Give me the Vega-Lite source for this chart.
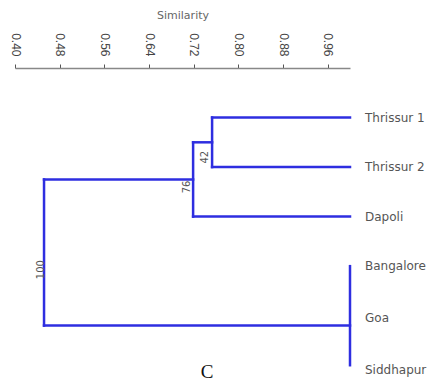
{
  "$schema": "https://vega.github.io/schema/vega-lite/v6.json",
  "width": 335,
  "height": 322,
  "autosize": {"type": "none"},
  "padding": {"left": 15, "top": 68, "right": 84, "bottom": 1},
  "background": "white",
  "config": {"view": {"stroke": null}},
  "datasets": {
    "segments": [
      {"sim": 0.753, "sim2": 1.0, "pos": 1, "pos2": 1},
      {"sim": 0.753, "sim2": 1.0, "pos": 2, "pos2": 2},
      {"sim": 0.753, "sim2": 0.753, "pos": 1, "pos2": 2},
      {"sim": 0.719, "sim2": 0.753, "pos": 1.5, "pos2": 1.5},
      {"sim": 0.719, "sim2": 1.0, "pos": 3, "pos2": 3},
      {"sim": 0.719, "sim2": 0.719, "pos": 1.5, "pos2": 3},
      {"sim": 0.452, "sim2": 0.719, "pos": 2.25, "pos2": 2.25},
      {"sim": 0.452, "sim2": 1.0, "pos": 5.2, "pos2": 5.2},
      {"sim": 0.452, "sim2": 0.452, "pos": 2.25, "pos2": 5.2},
      {"sim": 1.0, "sim2": 1.0, "pos": 4, "pos2": 6}
    ],
    "leaves": [
      {"label": "Thrissur 1", "sim": 1.0, "pos": 1},
      {"label": "Thrissur 2", "sim": 1.0, "pos": 2},
      {"label": "Dapoli", "sim": 1.0, "pos": 3},
      {"label": "Bangalore", "sim": 1.0, "pos": 4},
      {"label": "Goa", "sim": 1.0, "pos": 5.05},
      {"label": "Siddhapur", "sim": 1.0, "pos": 6.1}
    ],
    "boot": [
      {"label": "42", "sim": 0.740, "pos": 1.8},
      {"label": "76", "sim": 0.708, "pos": 2.4},
      {"label": "100", "sim": 0.4466, "pos": 4.07}
    ],
    "letter": [
      {"label": "C", "sim": 0.744, "pos": 6.13}
    ]
  },
  "layer": [
    {
      "data": {"name": "segments"},
      "mark": {"type": "rule", "color": "#2e2ee0", "strokeWidth": 2.5, "strokeCap": "square"},
      "encoding": {
        "x": {
          "field": "sim", "type": "quantitative",
          "scale": {"domain": [0.4, 1.0], "nice": false, "zero": false},
          "axis": {
            "orient": "top",
            "title": "Similarity",
            "values": [0.40, 0.48, 0.56, 0.64, 0.72, 0.80, 0.88, 0.96],
            "format": ".2f",
            "labelAngle": 90,
            "labelAlign": "right",
            "labelBaseline": "middle",
            "labelFont": "Liberation Sans",
            "labelFontSize": 12,
            "labelColor": "#444",
            "labelPadding": 8,
            "tickSize": 4,
            "tickColor": "#555",
            "domainColor": "#888",
            "domainWidth": 1.5,
            "grid": false,
            "titleFont": "DejaVu Sans",
            "titleFontSize": 11,
            "titleFontWeight": "normal",
            "titleColor": "#666",
            "titleY": -53,
            "titleBaseline": "middle",
            "labelFlush": false,
            "labelOverlap": false
          }
        },
        "x2": {"field": "sim2"},
        "y": {
          "field": "pos", "type": "quantitative",
          "scale": {"domain": [0, 6.5], "reverse": true, "nice": false, "zero": false},
          "axis": null
        },
        "y2": {"field": "pos2"}
      }
    },
    {
      "data": {"name": "leaves"},
      "mark": {"type": "text", "align": "left", "baseline": "middle", "dx": 15, "font": "DejaVu Sans", "fontSize": 12, "color": "#555"},
      "encoding": {
        "x": {"field": "sim", "type": "quantitative"},
        "y": {"field": "pos", "type": "quantitative"},
        "text": {"field": "label"}
      }
    },
    {
      "data": {"name": "boot"},
      "mark": {"type": "text", "align": "center", "baseline": "middle", "angle": 270, "font": "DejaVu Sans", "fontSize": 10, "color": "#555"},
      "encoding": {
        "x": {"field": "sim", "type": "quantitative"},
        "y": {"field": "pos", "type": "quantitative"},
        "text": {"field": "label"}
      }
    },
    {
      "data": {"name": "letter"},
      "mark": {"type": "text", "align": "center", "baseline": "middle", "font": "Liberation Serif", "fontSize": 19, "color": "#111"},
      "encoding": {
        "x": {"field": "sim", "type": "quantitative"},
        "y": {"field": "pos", "type": "quantitative"},
        "text": {"field": "label"}
      }
    }
  ]
}
